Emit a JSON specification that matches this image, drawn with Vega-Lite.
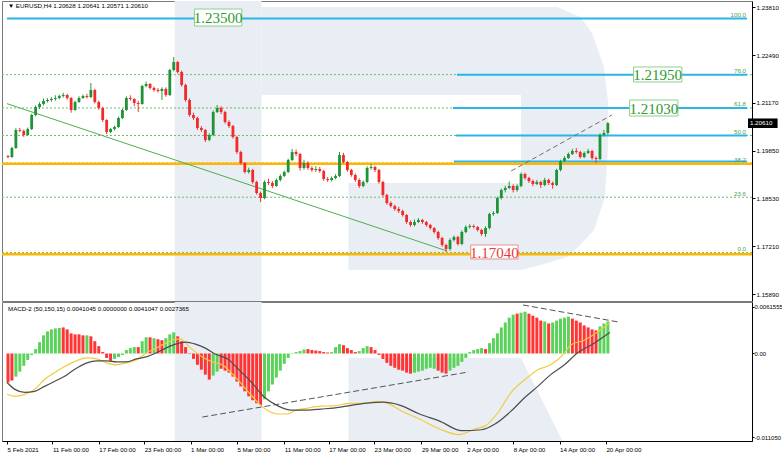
{
"$schema": "https://vega.github.io/schema/vega-lite/v6.json",
"padding": {"left": 0, "top": 0, "right": 0, "bottom": 0},
"spacing": 1,
"bounds": "flush",
"background": "white",
"config": {
 "view": {"stroke": "#7a7a7a"},
 "axis": {"grid": false, "labelFont": "Liberation Sans", "labelFontSize": 6.2, "labelColor": "#000000", "domainColor": "#000000", "tickColor": "#000000", "tickSize": 3, "labelPadding": 1, "titleFontSize": 0, "labelOverlap": false, "labelFlush": false},
 "text": {"font": "Liberation Sans"}
},
"datasets": {
 "bars": [
{"t":0,"o":1.19700,"h":1.19730,"l":1.19640,"c":1.19676,"m":-0.00382,"u":0},
{"t":2,"o":1.19676,"h":1.19960,"l":1.19650,"c":1.19925,"m":-0.00356,"u":0},
{"t":4,"o":1.19925,"h":1.20470,"l":1.19900,"c":1.20422,"m":-0.00304,"u":1},
{"t":6,"o":1.20422,"h":1.20480,"l":1.20360,"c":1.20400,"m":-0.00239,"u":1},
{"t":8,"o":1.20400,"h":1.20430,"l":1.20230,"c":1.20284,"m":-0.00162,"u":1},
{"t":10,"o":1.20284,"h":1.20490,"l":1.20260,"c":1.20449,"m":-0.00084,"u":1},
{"t":12,"o":1.20449,"h":1.20870,"l":1.20420,"c":1.20836,"m":-0.00019,"u":1},
{"t":14,"o":1.20836,"h":1.21100,"l":1.20800,"c":1.21057,"m":0.00058,"u":1},
{"t":16,"o":1.21057,"h":1.21190,"l":1.21000,"c":1.21140,"m":0.00149,"u":1},
{"t":18,"o":1.21140,"h":1.21290,"l":1.21100,"c":1.21223,"m":0.00239,"u":1},
{"t":20,"o":1.21223,"h":1.21300,"l":1.21180,"c":1.21250,"m":0.00291,"u":1},
{"t":22,"o":1.21250,"h":1.21330,"l":1.21200,"c":1.21278,"m":0.00317,"u":1},
{"t":24,"o":1.21278,"h":1.21380,"l":1.21230,"c":1.21306,"m":0.00330,"u":1},
{"t":26,"o":1.21306,"h":1.21400,"l":1.21270,"c":1.21361,"m":0.00336,"u":1},
{"t":28,"o":1.21361,"h":1.21450,"l":1.21320,"c":1.21388,"m":0.00343,"u":0},
{"t":30,"o":1.21388,"h":1.21420,"l":1.21260,"c":1.21306,"m":0.00317,"u":0},
{"t":32,"o":1.21306,"h":1.21330,"l":1.20900,"c":1.20974,"m":0.00265,"u":0},
{"t":34,"o":1.20974,"h":1.21230,"l":1.20950,"c":1.21195,"m":0.00252,"u":0},
{"t":36,"o":1.21195,"h":1.21350,"l":1.21170,"c":1.21306,"m":0.00252,"u":0},
{"t":38,"o":1.21306,"h":1.21400,"l":1.21280,"c":1.21361,"m":0.00239,"u":0},
{"t":40,"o":1.21361,"h":1.21420,"l":1.21290,"c":1.21333,"m":0.00239,"u":1},
{"t":42,"o":1.21333,"h":1.21720,"l":1.21300,"c":1.21526,"m":0.00226,"u":0},
{"t":44,"o":1.21526,"h":1.21560,"l":1.21150,"c":1.21195,"m":0.00162,"u":0},
{"t":46,"o":1.21195,"h":1.21230,"l":1.20980,"c":1.21029,"m":0.00097,"u":0},
{"t":48,"o":1.21029,"h":1.21060,"l":1.20640,"c":1.20698,"m":0.00019,"u":0},
{"t":50,"o":1.20698,"h":1.20720,"l":1.20310,"c":1.20367,"m":-0.00058,"u":0},
{"t":52,"o":1.20367,"h":1.20480,"l":1.20330,"c":1.20449,"m":-0.00097,"u":0},
{"t":54,"o":1.20449,"h":1.20540,"l":1.20410,"c":1.20505,"m":-0.00071,"u":1},
{"t":56,"o":1.20505,"h":1.20790,"l":1.20480,"c":1.20753,"m":-0.00045,"u":1},
{"t":58,"o":1.20753,"h":1.21010,"l":1.20720,"c":1.20974,"m":-0.00019,"u":1},
{"t":60,"o":1.20974,"h":1.21350,"l":1.20950,"c":1.21306,"m":0.00045,"u":1},
{"t":62,"o":1.21306,"h":1.21380,"l":1.21230,"c":1.21278,"m":0.00071,"u":1},
{"t":64,"o":1.21278,"h":1.21300,"l":1.21080,"c":1.21167,"m":0.00084,"u":1},
{"t":66,"o":1.21167,"h":1.21230,"l":1.20919,"c":1.21140,"m":0.00084,"u":0},
{"t":68,"o":1.21140,"h":1.21670,"l":1.21120,"c":1.21637,"m":0.00162,"u":1},
{"t":70,"o":1.21637,"h":1.21760,"l":1.21600,"c":1.21692,"m":0.00213,"u":1},
{"t":72,"o":1.21692,"h":1.21720,"l":1.21540,"c":1.21582,"m":0.00213,"u":0},
{"t":74,"o":1.21582,"h":1.21620,"l":1.21480,"c":1.21526,"m":0.00201,"u":1},
{"t":76,"o":1.21526,"h":1.21580,"l":1.21460,"c":1.21499,"m":0.00188,"u":0},
{"t":78,"o":1.21499,"h":1.21600,"l":1.21250,"c":1.21554,"m":0.00175,"u":0},
{"t":80,"o":1.21554,"h":1.21600,"l":1.21340,"c":1.21388,"m":0.00201,"u":1},
{"t":82,"o":1.21388,"h":1.22110,"l":1.21360,"c":1.22079,"m":0.00252,"u":1},
{"t":84,"o":1.22079,"h":1.22438,"l":1.22040,"c":1.22300,"m":0.00278,"u":1},
{"t":86,"o":1.22300,"h":1.22330,"l":1.21980,"c":1.22024,"m":0.00226,"u":0},
{"t":88,"o":1.22024,"h":1.22060,"l":1.21620,"c":1.21665,"m":0.00162,"u":0},
{"t":90,"o":1.21665,"h":1.21700,"l":1.21200,"c":1.21250,"m":0.00084,"u":0},
{"t":92,"o":1.21250,"h":1.21290,"l":1.20790,"c":1.20836,"m":-0.00006,"u":0},
{"t":94,"o":1.20836,"h":1.20900,"l":1.20700,"c":1.20753,"m":-0.00071,"u":0},
{"t":96,"o":1.20753,"h":1.20790,"l":1.20430,"c":1.20477,"m":-0.00149,"u":0},
{"t":98,"o":1.20477,"h":1.20530,"l":1.20370,"c":1.20422,"m":-0.00213,"u":0},
{"t":100,"o":1.20422,"h":1.20450,"l":1.20090,"c":1.20146,"m":-0.00278,"u":0},
{"t":102,"o":1.20146,"h":1.20330,"l":1.20110,"c":1.20284,"m":-0.00343,"u":0},
{"t":104,"o":1.20284,"h":1.20960,"l":1.20250,"c":1.20919,"m":-0.00291,"u":1},
{"t":106,"o":1.20919,"h":1.21112,"l":1.20890,"c":1.21029,"m":-0.00239,"u":1},
{"t":108,"o":1.21029,"h":1.21080,"l":1.20860,"c":1.20919,"m":-0.00201,"u":0},
{"t":110,"o":1.20919,"h":1.20950,"l":1.20600,"c":1.20643,"m":-0.00226,"u":0},
{"t":112,"o":1.20643,"h":1.20690,"l":1.20480,"c":1.20532,"m":-0.00252,"u":0},
{"t":114,"o":1.20532,"h":1.20560,"l":1.20180,"c":1.20228,"m":-0.00304,"u":0},
{"t":116,"o":1.20228,"h":1.20260,"l":1.19760,"c":1.19814,"m":-0.00369,"u":0},
{"t":118,"o":1.19814,"h":1.19850,"l":1.19460,"c":1.19510,"m":-0.00433,"u":0},
{"t":120,"o":1.19510,"h":1.19540,"l":1.19220,"c":1.19262,"m":-0.00498,"u":0},
{"t":122,"o":1.19262,"h":1.19380,"l":1.19220,"c":1.19317,"m":-0.00563,"u":0},
{"t":124,"o":1.19317,"h":1.19350,"l":1.18940,"c":1.18986,"m":-0.00615,"u":0},
{"t":126,"o":1.18986,"h":1.19020,"l":1.18640,"c":1.18682,"m":-0.00653,"u":0},
{"t":128,"o":1.18682,"h":1.18720,"l":1.18433,"c":1.18544,"m":-0.00679,"u":0},
{"t":130,"o":1.18544,"h":1.19030,"l":1.18510,"c":1.18986,"m":-0.00602,"u":1},
{"t":132,"o":1.18986,"h":1.19080,"l":1.18900,"c":1.18958,"m":-0.00498,"u":1},
{"t":134,"o":1.18958,"h":1.19010,"l":1.18820,"c":1.18875,"m":-0.00408,"u":1},
{"t":136,"o":1.18875,"h":1.19080,"l":1.18850,"c":1.19041,"m":-0.00317,"u":1},
{"t":138,"o":1.19041,"h":1.19200,"l":1.19000,"c":1.19151,"m":-0.00226,"u":1},
{"t":140,"o":1.19151,"h":1.19300,"l":1.19120,"c":1.19262,"m":-0.00136,"u":1},
{"t":142,"o":1.19262,"h":1.19630,"l":1.19230,"c":1.19593,"m":-0.00058,"u":1},
{"t":144,"o":1.19593,"h":1.19900,"l":1.19560,"c":1.19814,"m":0.00006,"u":1},
{"t":146,"o":1.19814,"h":1.19880,"l":1.19700,"c":1.19759,"m":0.00019,"u":1},
{"t":148,"o":1.19759,"h":1.19790,"l":1.19300,"c":1.19372,"m":0.00032,"u":1},
{"t":150,"o":1.19372,"h":1.19600,"l":1.19330,"c":1.19510,"m":0.00052,"u":1},
{"t":152,"o":1.19510,"h":1.19560,"l":1.19320,"c":1.19372,"m":0.00058,"u":0},
{"t":154,"o":1.19372,"h":1.19420,"l":1.19270,"c":1.19317,"m":0.00045,"u":0},
{"t":156,"o":1.19317,"h":1.19420,"l":1.19260,"c":1.19345,"m":0.00039,"u":0},
{"t":158,"o":1.19345,"h":1.19400,"l":1.19240,"c":1.19290,"m":0.00032,"u":0},
{"t":160,"o":1.19290,"h":1.19320,"l":1.19020,"c":1.19069,"m":0.00019,"u":0},
{"t":162,"o":1.19069,"h":1.19120,"l":1.18990,"c":1.19041,"m":0.00013,"u":0},
{"t":164,"o":1.19041,"h":1.19140,"l":1.19000,"c":1.19096,"m":0.00019,"u":1},
{"t":166,"o":1.19096,"h":1.19200,"l":1.19060,"c":1.19151,"m":0.00084,"u":1},
{"t":168,"o":1.19151,"h":1.19814,"l":1.19120,"c":1.19731,"m":0.00123,"u":1},
{"t":170,"o":1.19731,"h":1.19790,"l":1.19500,"c":1.19538,"m":0.00110,"u":0},
{"t":172,"o":1.19538,"h":1.19570,"l":1.19270,"c":1.19317,"m":0.00071,"u":0},
{"t":174,"o":1.19317,"h":1.19350,"l":1.19130,"c":1.19179,"m":0.00045,"u":0},
{"t":176,"o":1.19179,"h":1.19220,"l":1.18990,"c":1.19041,"m":0.00019,"u":0},
{"t":178,"o":1.19041,"h":1.19080,"l":1.18820,"c":1.18875,"m":0.00032,"u":1},
{"t":180,"o":1.18875,"h":1.19030,"l":1.18840,"c":1.18986,"m":0.00071,"u":1},
{"t":182,"o":1.18986,"h":1.19420,"l":1.18950,"c":1.19372,"m":0.00097,"u":1},
{"t":184,"o":1.19372,"h":1.19480,"l":1.19330,"c":1.19400,"m":0.00084,"u":0},
{"t":186,"o":1.19400,"h":1.19430,"l":1.19260,"c":1.19317,"m":0.00045,"u":0},
{"t":188,"o":1.19317,"h":1.19350,"l":1.18940,"c":1.18986,"m":-0.00019,"u":0},
{"t":190,"o":1.18986,"h":1.19020,"l":1.18580,"c":1.18627,"m":-0.00071,"u":0},
{"t":192,"o":1.18627,"h":1.18660,"l":1.18360,"c":1.18406,"m":-0.00123,"u":0},
{"t":194,"o":1.18406,"h":1.18450,"l":1.18280,"c":1.18323,"m":-0.00162,"u":0},
{"t":196,"o":1.18323,"h":1.18360,"l":1.18190,"c":1.18240,"m":-0.00188,"u":0},
{"t":198,"o":1.18240,"h":1.18300,"l":1.18130,"c":1.18185,"m":-0.00213,"u":0},
{"t":200,"o":1.18185,"h":1.18220,"l":1.18030,"c":1.18074,"m":-0.00226,"u":0},
{"t":202,"o":1.18074,"h":1.18100,"l":1.17830,"c":1.17881,"m":-0.00252,"u":0},
{"t":204,"o":1.17881,"h":1.17920,"l":1.17750,"c":1.17798,"m":-0.00265,"u":0},
{"t":206,"o":1.17798,"h":1.17950,"l":1.17760,"c":1.17881,"m":-0.00252,"u":1},
{"t":208,"o":1.17881,"h":1.17990,"l":1.17850,"c":1.17936,"m":-0.00239,"u":1},
{"t":210,"o":1.17936,"h":1.17970,"l":1.17830,"c":1.17881,"m":-0.00226,"u":1},
{"t":212,"o":1.17881,"h":1.17910,"l":1.17750,"c":1.17798,"m":-0.00201,"u":1},
{"t":214,"o":1.17798,"h":1.17830,"l":1.17670,"c":1.17715,"m":-0.00188,"u":1},
{"t":216,"o":1.17715,"h":1.17740,"l":1.17560,"c":1.17605,"m":-0.00201,"u":1},
{"t":218,"o":1.17605,"h":1.17640,"l":1.17390,"c":1.17439,"m":-0.00226,"u":0},
{"t":220,"o":1.17439,"h":1.17470,"l":1.17200,"c":1.17246,"m":-0.00252,"u":0},
{"t":222,"o":1.17246,"h":1.17280,"l":1.17053,"c":1.17135,"m":-0.00265,"u":0},
{"t":224,"o":1.17135,"h":1.17430,"l":1.17090,"c":1.17384,"m":-0.00226,"u":1},
{"t":226,"o":1.17384,"h":1.17510,"l":1.17340,"c":1.17467,"m":-0.00188,"u":1},
{"t":228,"o":1.17467,"h":1.17500,"l":1.17230,"c":1.17274,"m":-0.00162,"u":1},
{"t":230,"o":1.17274,"h":1.17650,"l":1.17240,"c":1.17605,"m":-0.00110,"u":1},
{"t":232,"o":1.17605,"h":1.17790,"l":1.17570,"c":1.17743,"m":-0.00058,"u":1},
{"t":234,"o":1.17743,"h":1.17820,"l":1.17700,"c":1.17771,"m":0.00019,"u":1},
{"t":236,"o":1.17771,"h":1.17810,"l":1.17700,"c":1.17743,"m":0.00045,"u":1},
{"t":238,"o":1.17743,"h":1.17770,"l":1.17620,"c":1.17660,"m":0.00058,"u":1},
{"t":240,"o":1.17660,"h":1.17690,"l":1.17500,"c":1.17550,"m":0.00071,"u":1},
{"t":242,"o":1.17550,"h":1.17760,"l":1.17467,"c":1.17715,"m":0.00058,"u":0},
{"t":244,"o":1.17715,"h":1.18140,"l":1.17680,"c":1.18102,"m":0.00136,"u":1},
{"t":246,"o":1.18102,"h":1.18180,"l":1.18050,"c":1.18130,"m":0.00201,"u":1},
{"t":248,"o":1.18130,"h":1.18580,"l":1.18100,"c":1.18544,"m":0.00265,"u":1},
{"t":250,"o":1.18544,"h":1.18800,"l":1.18500,"c":1.18765,"m":0.00343,"u":1},
{"t":252,"o":1.18765,"h":1.18880,"l":1.18700,"c":1.18820,"m":0.00408,"u":1},
{"t":254,"o":1.18820,"h":1.19000,"l":1.18790,"c":1.18875,"m":0.00472,"u":1},
{"t":256,"o":1.18875,"h":1.18920,"l":1.18700,"c":1.18765,"m":0.00511,"u":1},
{"t":258,"o":1.18765,"h":1.18920,"l":1.18720,"c":1.18875,"m":0.00524,"u":0},
{"t":260,"o":1.18875,"h":1.19250,"l":1.18840,"c":1.19207,"m":0.00537,"u":1},
{"t":262,"o":1.19207,"h":1.19240,"l":1.19050,"c":1.19096,"m":0.00550,"u":1},
{"t":264,"o":1.19096,"h":1.19130,"l":1.18960,"c":1.19013,"m":0.00524,"u":0},
{"t":266,"o":1.19013,"h":1.19050,"l":1.18870,"c":1.18930,"m":0.00498,"u":0},
{"t":268,"o":1.18930,"h":1.19040,"l":1.18900,"c":1.18986,"m":0.00472,"u":0},
{"t":270,"o":1.18986,"h":1.19020,"l":1.18820,"c":1.18903,"m":0.00433,"u":0},
{"t":272,"o":1.18903,"h":1.19100,"l":1.18870,"c":1.19041,"m":0.00421,"u":1},
{"t":274,"o":1.19041,"h":1.19080,"l":1.18900,"c":1.18958,"m":0.00395,"u":0},
{"t":276,"o":1.18958,"h":1.19000,"l":1.18800,"c":1.18903,"m":0.00408,"u":1},
{"t":278,"o":1.18903,"h":1.19350,"l":1.18870,"c":1.19317,"m":0.00433,"u":1},
{"t":280,"o":1.19317,"h":1.19600,"l":1.19280,"c":1.19566,"m":0.00459,"u":1},
{"t":282,"o":1.19566,"h":1.19700,"l":1.19530,"c":1.19649,"m":0.00472,"u":1},
{"t":284,"o":1.19649,"h":1.19800,"l":1.19620,"c":1.19759,"m":0.00485,"u":1},
{"t":286,"o":1.19759,"h":1.19900,"l":1.19730,"c":1.19842,"m":0.00459,"u":0},
{"t":288,"o":1.19842,"h":1.19920,"l":1.19770,"c":1.19814,"m":0.00433,"u":0},
{"t":290,"o":1.19814,"h":1.19850,"l":1.19630,"c":1.19676,"m":0.00408,"u":0},
{"t":292,"o":1.19676,"h":1.19830,"l":1.19640,"c":1.19787,"m":0.00369,"u":0},
{"t":294,"o":1.19787,"h":1.19900,"l":1.19760,"c":1.19842,"m":0.00343,"u":0},
{"t":296,"o":1.19842,"h":1.19870,"l":1.19600,"c":1.19649,"m":0.00317,"u":0},
{"t":298,"o":1.19649,"h":1.19690,"l":1.19510,"c":1.19620,"m":0.00304,"u":0},
{"t":300,"o":1.19620,"h":1.20330,"l":1.19590,"c":1.20284,"m":0.00356,"u":1},
{"t":302,"o":1.20284,"h":1.20420,"l":1.20250,"c":1.20339,"m":0.00395,"u":1},
{"t":304,"o":1.20339,"h":1.20641,"l":1.20300,"c":1.20610,"m":0.00421,"u":1}
 ],
 "lines": [
{"t":-0.5,"v":-0.00537,"s":"main"},{"t":3.5,"v":-0.00563,"s":"main"},{"t":8.5,"v":-0.00537,"s":"main"},{"t":13.5,"v":-0.00472,"s":"main"},{"t":18.5,"v":-0.00343,"s":"main"},{"t":23.5,"v":-0.00252,"s":"main"},{"t":28.5,"v":-0.00175,"s":"main"},{"t":33.5,"v":-0.0011,"s":"main"},{"t":40,"v":-0.00058,"s":"main"},{"t":45,"v":-0.00071,"s":"main"},{"t":50,"v":-0.00123,"s":"main"},{"t":55,"v":-0.00149,"s":"main"},{"t":60,"v":-0.00123,"s":"main"},{"t":65,"v":-0.00084,"s":"main"},{"t":70,"v":0.00006,"s":"main"},{"t":75,"v":0.00071,"s":"main"},{"t":80,"v":0.00136,"s":"main"},{"t":85,"v":0.00188,"s":"main"},{"t":87.5,"v":0.00188,"s":"main"},{"t":92,"v":0.00084,"s":"main"},{"t":98.5,"v":-0.00045,"s":"main"},{"t":103.5,"v":-0.0011,"s":"main"},{"t":108.5,"v":-0.00149,"s":"main"},{"t":115,"v":-0.00304,"s":"main"},{"t":122,"v":-0.00511,"s":"main"},{"t":127.5,"v":-0.00666,"s":"main"},{"t":132,"v":-0.00757,"s":"main"},{"t":137,"v":-0.00796,"s":"main"},{"t":142,"v":-0.00796,"s":"main"},{"t":145,"v":-0.00757,"s":"main"},{"t":152,"v":-0.00718,"s":"main"},{"t":158.5,"v":-0.00692,"s":"main"},{"t":165,"v":-0.0069,"s":"main"},{"t":172,"v":-0.0066,"s":"main"},{"t":182,"v":-0.00653,"s":"main"},{"t":187,"v":-0.00628,"s":"main"},{"t":193.5,"v":-0.00666,"s":"main"},{"t":198.5,"v":-0.00744,"s":"main"},{"t":208.5,"v":-0.00861,"s":"main"},{"t":218.5,"v":-0.0099,"s":"main"},{"t":228.5,"v":-0.01068,"s":"main"},{"t":237,"v":-0.0099,"s":"main"},{"t":242,"v":-0.00951,"s":"main"},{"t":248.5,"v":-0.0077,"s":"main"},{"t":255,"v":-0.00511,"s":"main"},{"t":262,"v":-0.00343,"s":"main"},{"t":268.5,"v":-0.00213,"s":"main"},{"t":275,"v":-0.00149,"s":"main"},{"t":282,"v":0.00006,"s":"main"},{"t":285,"v":0.0011,"s":"main"},{"t":292,"v":0.00175,"s":"main"},{"t":298.5,"v":0.00278,"s":"main"},{"t":305,"v":0.00408,"s":"main"},
{"t":-0.5,"v":-0.00382,"s":"signal"},{"t":3.5,"v":-0.00472,"s":"signal"},{"t":8.5,"v":-0.00511,"s":"signal"},{"t":13.5,"v":-0.00498,"s":"signal"},{"t":18.5,"v":-0.00433,"s":"signal"},{"t":23.5,"v":-0.00369,"s":"signal"},{"t":28.5,"v":-0.00304,"s":"signal"},{"t":33.5,"v":-0.00213,"s":"signal"},{"t":40,"v":-0.00123,"s":"signal"},{"t":45,"v":-0.00097,"s":"signal"},{"t":50,"v":-0.00097,"s":"signal"},{"t":55,"v":-0.0011,"s":"signal"},{"t":60,"v":-0.0011,"s":"signal"},{"t":65,"v":-0.00071,"s":"signal"},{"t":70,"v":-0.00045,"s":"signal"},{"t":75,"v":0.00006,"s":"signal"},{"t":80,"v":0.00071,"s":"signal"},{"t":85,"v":0.00123,"s":"signal"},{"t":90,"v":0.00149,"s":"signal"},{"t":95,"v":0.00123,"s":"signal"},{"t":100,"v":0.00071,"s":"signal"},{"t":105,"v":-0.00006,"s":"signal"},{"t":112,"v":-0.00084,"s":"signal"},{"t":117,"v":-0.00213,"s":"signal"},{"t":123.5,"v":-0.00382,"s":"signal"},{"t":130,"v":-0.00576,"s":"signal"},{"t":137,"v":-0.00692,"s":"signal"},{"t":143.5,"v":-0.00744,"s":"signal"},{"t":152,"v":-0.00744,"s":"signal"},{"t":158.5,"v":-0.00731,"s":"signal"},{"t":165,"v":-0.00718,"s":"signal"},{"t":182,"v":-0.00653,"s":"signal"},{"t":190,"v":-0.00641,"s":"signal"},{"t":198.5,"v":-0.00679,"s":"signal"},{"t":208.5,"v":-0.00796,"s":"signal"},{"t":218.5,"v":-0.00886,"s":"signal"},{"t":230,"v":-0.01016,"s":"signal"},{"t":240,"v":-0.01003,"s":"signal"},{"t":247,"v":-0.00925,"s":"signal"},{"t":255,"v":-0.00757,"s":"signal"},{"t":262,"v":-0.00576,"s":"signal"},{"t":268.5,"v":-0.00433,"s":"signal"},{"t":275,"v":-0.00278,"s":"signal"},{"t":282,"v":-0.00149,"s":"signal"},{"t":288.5,"v":0.00006,"s":"signal"},{"t":297,"v":0.00136,"s":"signal"},{"t":305,"v":0.00278,"s":"signal"}
 ]
},
"vconcat": [
{
 "width": 750, "height": 300,
 "layer": [
  {
   "data": {"values": [{"t":84.5,"t2":128.5,"p":1.15699,"p2":1.23984},{"t":128.5,"t2":260,"p":1.21388,"p2":1.23819},{"t":172.5,"t2":260,"p":1.16555,"p2":1.18958}]},
   "mark": {"type": "rect", "color": "#e9edf4"},
   "encoding": {
    "x": {"field": "t", "type": "quantitative", "scale": {"domain": [-0.5, 374.5], "nice": false, "zero": false}, "axis": null},
    "x2": {"field": "t2"},
    "y": {"field": "p", "type": "quantitative", "scale": {"domain": [1.15699, 1.23984], "nice": false, "zero": false}, "axis": {"orient": "right", "title": null, "values": [1.2381, 1.2315, 1.2249, 1.2183, 1.2117, 1.2051, 1.1985, 1.1919, 1.1853, 1.1787, 1.1721, 1.1655, 1.1589], "format": ".5f"}},
    "y2": {"field": "p2"}
   }
  },
  {
   "data": {"values": [{"p":1.23819,"t":260,"t2":278.5},{"p":1.23543,"t":260,"t2":290},{"p":1.23101,"t":260,"t2":296},{"p":1.22162,"t":260,"t2":302},{"p":1.2125,"t":260,"t2":304},{"p":1.19869,"t":260,"t2":304},{"p":1.18571,"t":260,"t2":302.5},{"p":1.1766,"t":260,"t2":297},{"p":1.17246,"t":260,"t2":290},{"p":1.16914,"t":260,"t2":283.5},{"p":1.16693,"t":260,"t2":270},{"p":1.16555,"t":260,"t2":260}]},
   "mark": {"type": "area", "orient": "horizontal", "color": "#e9edf4"},
   "encoding": {
    "y": {"field": "p", "type": "quantitative", "title": null},
    "x": {"field": "t", "type": "quantitative", "axis": null},
    "x2": {"field": "t2"}
   }
  },
  {
   "data": {"values": [{"p":1.2195},{"p":1.2103},{"p":1.2027},{"p":1.19508},{"p":1.18565},{"p":1.1704}]},
   "mark": {"type": "rule", "color": "#6dbd6d", "strokeDash": [2, 2], "strokeWidth": 1},
   "encoding": {"y": {"field": "p", "type": "quantitative", "title": null}}
  },
  {
   "mark": {"type": "rule", "color": "#c6c6c6", "strokeWidth": 1},
   "encoding": {"y": {"datum": 1.2061, "type": "quantitative"}}
  },
  {
   "data": {"values": [{"t":-0.5,"t2":374.5,"p":1.235},{"t":227.5,"t2":374.5,"p":1.2195},{"t":225.5,"t2":374.5,"p":1.2103},{"t":227,"t2":374.5,"p":1.2027},{"t":226,"t2":374.5,"p":1.19552}]},
   "mark": {"type": "rule", "color": "#2ab4e8", "strokeWidth": 2},
   "encoding": {
    "x": {"field": "t", "type": "quantitative", "axis": null},
    "x2": {"field": "t2"},
    "y": {"field": "p", "type": "quantitative", "title": null}
   }
  },
  {
   "data": {"values": [{"p":1.1949},{"p":1.1699}]},
   "mark": {"type": "rule", "color": "#ffb600", "strokeWidth": 2.5},
   "encoding": {"y": {"field": "p", "type": "quantitative", "title": null}}
  },
  {
   "data": {"values": [{"t":-0.5,"p":1.21149,"t2":222.5,"p2":1.1708}]},
   "mark": {"type": "rule", "color": "#4fae4f", "strokeWidth": 1},
   "encoding": {
    "x": {"field": "t", "type": "quantitative", "axis": null},
    "x2": {"field": "t2"},
    "y": {"field": "p", "type": "quantitative", "title": null},
    "y2": {"field": "p2"}
   }
  },
  {
   "data": {"values": [{"t":255,"p":1.1929,"t2":306,"p2":1.20836}]},
   "mark": {"type": "rule", "color": "#707070", "strokeWidth": 1, "strokeDash": [5, 3]},
   "encoding": {
    "x": {"field": "t", "type": "quantitative", "axis": null},
    "x2": {"field": "t2"},
    "y": {"field": "p", "type": "quantitative", "title": null},
    "y2": {"field": "p2"}
   }
  },
  {
   "data": {"name": "bars"},
   "mark": {"type": "rule", "strokeWidth": 1},
   "encoding": {
    "x": {"field": "t", "type": "quantitative", "axis": null},
    "y": {"field": "l", "type": "quantitative", "title": null},
    "y2": {"field": "h"},
    "color": {"condition": {"test": "datum.c >= datum.o", "value": "#2a9a3e"}, "value": "#f03434"}
   }
  },
  {
   "data": {"name": "bars"},
   "mark": {"type": "bar", "size": 2.8},
   "encoding": {
    "x": {"field": "t", "type": "quantitative", "axis": null},
    "y": {"field": "o", "type": "quantitative", "title": null},
    "y2": {"field": "c"},
    "color": {"condition": {"test": "datum.c >= datum.o", "value": "#1f9436"}, "value": "#f22a2a"}
   }
  },
  {
   "data": {"values": [{"p":1.235,"txt":"100.0"},{"p":1.2195,"txt":"76.0"},{"p":1.2103,"txt":"61.8"},{"p":1.2027,"txt":"50.0"},{"p":1.19508,"txt":"38.2"},{"p":1.18565,"txt":"23.6"},{"p":1.1704,"txt":"0.0"}]},
   "mark": {"type": "text", "align": "right", "baseline": "bottom", "dy": -0.5, "fontSize": 6.2, "color": "#4c9f4c"},
   "encoding": {
    "x": {"datum": 374, "type": "quantitative", "axis": null},
    "y": {"field": "p", "type": "quantitative", "title": null},
    "text": {"field": "txt"}
   }
  },
  {
   "mark": {"type": "text", "align": "right", "baseline": "middle", "fontSize": 6.2, "color": "#e09a20"},
   "encoding": {
    "x": {"datum": 374, "type": "quantitative", "axis": null},
    "y": {"datum": 1.1699, "type": "quantitative"},
    "text": {"value": "38.2"}
   }
  },
  {
   "data": {"values": [{"t":94.5,"t2":118.5,"p":1.23293,"p2":1.23763,"tc":106.5,"pc":1.23528,"txt":"1.23500"},{"t":317,"t2":341.5,"p":1.21747,"p2":1.22162,"tc":329.25,"pc":1.21955,"txt":"1.21950"},{"t":315,"t2":339.5,"p":1.20808,"p2":1.2125,"tc":327.25,"pc":1.21029,"txt":"1.21030"},{"t":234.5,"t2":258.5,"p":1.16859,"p2":1.17246,"tc":246.5,"pc":1.17052,"txt":"1.17040"}]},
   "layer": [
    {
     "mark": {"type": "rect", "fill": "#ffffff", "strokeWidth": 1},
     "encoding": {
      "x": {"field": "t", "type": "quantitative", "axis": null},
      "x2": {"field": "t2"},
      "y": {"field": "p", "type": "quantitative", "title": null},
      "y2": {"field": "p2"},
      "stroke": {"condition": {"test": "datum.txt == '1.17040'", "value": "#f08c8c"}, "value": "#8cd08c"}
     }
    },
    {
     "mark": {"type": "text", "align": "center", "baseline": "middle", "font": "Liberation Sans Narrow", "fontSize": 15, "dy": 0.5},
     "encoding": {
      "x": {"field": "tc", "type": "quantitative", "axis": null},
      "y": {"field": "pc", "type": "quantitative", "title": null},
      "text": {"field": "txt"},
      "color": {"condition": {"test": "datum.txt == '1.17040'", "value": "#e83a3a"}, "value": "#2e9a2e"}
     }
    }
   ]
  },
  {
   "data": {"values": [{"t":375,"t2":390,"p":1.20477,"p2":1.2074,"tc":376,"pc":1.2061,"txt":"1.20610"}]},
   "layer": [
    {
     "mark": {"type": "rect", "fill": "#000000"},
     "encoding": {
      "x": {"field": "t", "type": "quantitative", "axis": null},
      "x2": {"field": "t2"},
      "y": {"field": "p", "type": "quantitative", "title": null},
      "y2": {"field": "p2"}
     }
    },
    {
     "mark": {"type": "text", "align": "left", "baseline": "middle", "fontSize": 6.2, "color": "#ffffff"},
     "encoding": {
      "x": {"field": "tc", "type": "quantitative", "axis": null},
      "y": {"field": "pc", "type": "quantitative", "title": null},
      "text": {"field": "txt"}
     }
    }
   ]
  },
  {
   "data": {"values": [{"t":-0.5,"p":1.23846,"txt":"▼ EURUSD,H4  1.20628 1.20641 1.20571 1.20610"}]},
   "mark": {"type": "text", "align": "left", "baseline": "middle", "fontSize": 6.2, "color": "#000000", "dx": 1},
   "encoding": {
    "x": {"field": "t", "type": "quantitative", "axis": null},
    "y": {"field": "p", "type": "quantitative", "title": null},
    "text": {"field": "txt"}
   }
  }
 ]
},
{
 "width": 750, "height": 139,
 "layer": [
  {
   "data": {"values": [{"t":84.5,"t2":128.5,"v":-0.011513,"v2":0.006776}]},
   "mark": {"type": "rect", "color": "#e9edf4"},
   "encoding": {
    "x": {"field": "t", "type": "quantitative", "scale": {"domain": [-0.5, 374.5], "nice": false, "zero": false}, "axis": {"title": null, "values": [-0.5, 22.5, 46, 69, 92.5, 116, 140, 162.5, 185.5, 209.5, 232.5, 256, 279.5, 303], "labelAlign": "left", "labelPadding": 2, "labelExpr": "['5 Feb 2021','11 Feb 00:00','17 Feb 00:00','23 Feb 00:00','1 Mar 00:00','5 Mar 00:00','11 Mar 00:00','17 Mar 00:00','23 Mar 00:00','29 Mar 00:00','2 Apr 00:00','8 Apr 00:00','14 Apr 00:00','20 Apr 00:00'][indexof([-0.5,22.5,46,69,92.5,116,140,162.5,185.5,209.5,232.5,256,279.5,303], datum.value)]"}},
    "x2": {"field": "t2"},
    "y": {"field": "v", "type": "quantitative", "scale": {"domain": [-0.011513, 0.006776], "nice": false, "zero": false}, "axis": {"orient": "right", "title": null, "values": [0.0061555, 0, -0.01105], "tickSize": 2, "labelPadding": 0, "labelFontSize": 6, "labelExpr": "datum.value > 0.001 ? '0.0061555' : (datum.value < -0.001 ? '-0.011050' : '0.00')"}},
    "y2": {"field": "v2"}
   }
  },
  {
   "data": {"values": [{"v":-0.00058,"t":172.5,"t2":260},{"v":-0.011513,"t":172.5,"t2":281}]},
   "mark": {"type": "area", "orient": "horizontal", "color": "#e9edf4"},
   "encoding": {
    "y": {"field": "v", "type": "quantitative", "title": null},
    "x": {"field": "t", "type": "quantitative"},
    "x2": {"field": "t2"}
   }
  },
  {
   "data": {"name": "bars"},
   "mark": {"type": "bar", "size": 3},
   "encoding": {
    "x": {"field": "t", "type": "quantitative"},
    "y": {"field": "m", "type": "quantitative", "title": null},
    "y2": {"datum": 0},
    "color": {"condition": {"test": "datum.u == 1", "value": "#5ad35a"}, "value": "#ff3434"}
   }
  },
  {
   "data": {"name": "lines"},
   "mark": {"type": "line", "strokeWidth": 1.2, "interpolate": "monotone"},
   "encoding": {
    "x": {"field": "t", "type": "quantitative"},
    "y": {"field": "v", "type": "quantitative", "title": null},
    "color": {"field": "s", "type": "nominal", "scale": {"domain": ["main", "signal"], "range": ["#f0cc3c", "#4d4d4d"]}, "legend": null}
   }
  },
  {
   "data": {"values": [{"t":98.5,"v":-0.00836,"t2":233.5,"v2":-0.00243},{"t":261,"v":0.00638,"t2":309.5,"v2":0.00414}]},
   "mark": {"type": "rule", "color": "#555555", "strokeWidth": 1, "strokeDash": [6, 3]},
   "encoding": {
    "x": {"field": "t", "type": "quantitative"},
    "x2": {"field": "t2"},
    "y": {"field": "v", "type": "quantitative", "title": null},
    "y2": {"field": "v2"}
   }
  },
  {
   "data": {"values": [{"t":-0.5,"v":0.005855,"txt":"MACD-2 (50,150,15) 0.0041045 0.0000000 0.0041047 0.0027365"}]},
   "mark": {"type": "text", "align": "left", "baseline": "middle", "fontSize": 6.2, "color": "#000000", "dx": 1},
   "encoding": {
    "x": {"field": "t", "type": "quantitative"},
    "y": {"field": "v", "type": "quantitative", "title": null},
    "text": {"field": "txt"}
   }
  }
 ]
}
]
}
